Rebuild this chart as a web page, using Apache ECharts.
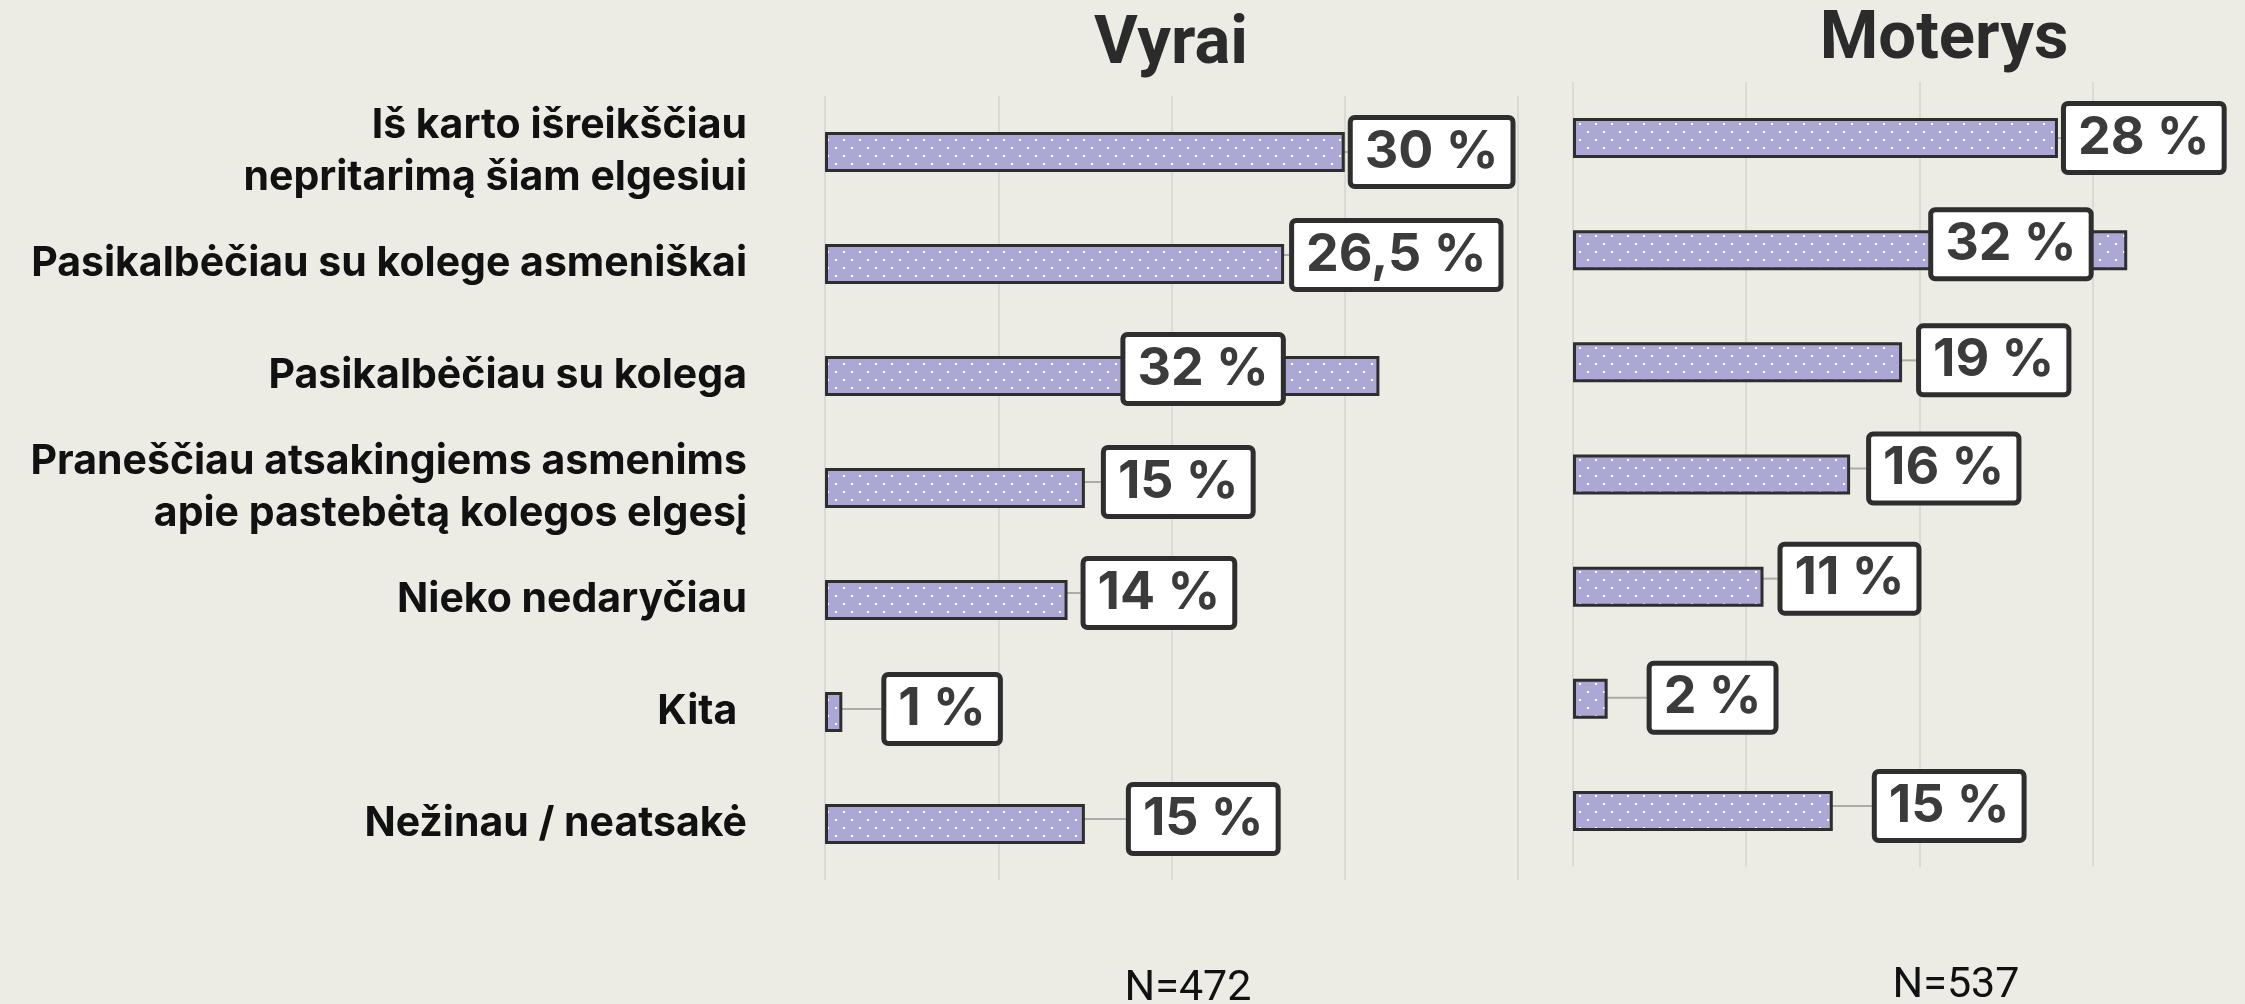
<!DOCTYPE html>
<html>
<head>
<meta charset="utf-8">
<script src="https://cdn.jsdelivr.net/npm/echarts@6/dist/echarts.min.js"></script>
<style>
  html, body { margin: 0; padding: 0; background: #ecebe4; }
  #chart { width: 2245px; height: 1004px; }
</style>
</head>
<body>
<div id="chart"></div>
<script>
// duomenys
const categories = [
  'Iš karto išreikščiau\nnepritarimą šiam elgesiui',
  'Pasikalbėčiau su kolege asmeniškai',
  'Pasikalbėčiau su kolega',
  'Praneščiau atsakingiems asmenims\napie pastebėtą kolegos elgesį',
  'Nieko nedaryčiau',
  'Kita ',
  'Nežinau / neatsakė'
]
const menValues = [30, 26.5, 32, 15, 14, 1, 15]
const womenValues = [28, 32, 19, 16, 11, 2, 15]
const panelTitles = ['Vyrai', 'Moterys']
const sampleSizes = ['N=472', 'N=537']
const axisMin = 0
const menAxisMax = 40
const womenAxisMax = 38.8 // right panel is cut by the page edge
const axisStep = 10

// label nudges (px) so boxes sit like in the original
const menNudge = [[0, 0], [2, -9], [-262, -7], [13, -6], [10, -7], [36, -3], [38, -5]]
const womenNudge = [[0, 0], [-202, -6], [11, -2], [13, -6], [11, -8], [36, -1], [36, -5]]

const FONT = 'Roboto, "Noto Sans", sans-serif'
const LABEL_FONT = 'Inter, Roboto, sans-serif'

function dotPattern() {
  const c = document.createElement('canvas')
  c.width = 16
  c.height = 16
  const ctx = c.getContext('2d')
  ctx.fillStyle = '#aba8d6'
  ctx.fillRect(0, 0, 16, 16)
  ctx.fillStyle = '#ffffff'
  ctx.fillRect(3, 3, 2, 2)
  ctx.fillRect(11, 11, 2, 2)
  return c
}

function fmt(v) {
  return String(v).replace('.', ',') + ' %'
}

function buildSeries(values, nudges, idx) {
  return {
    type: 'bar',
    xAxisIndex: idx,
    yAxisIndex: idx,
    data: values,
    barWidth: 40,
    itemStyle: {
      color: { image: dotPattern(), repeat: 'repeat' },
      borderColor: '#2e2e2e',
      borderWidth: 3
    },
    label: {
      show: true,
      position: 'right',
      distance: 8,
      formatter: p => fmt(p.value),
      fontFamily: LABEL_FONT,
      fontWeight: 'bold',
      fontSize: 52,
      lineHeight: 60,
      color: '#3b3b3b',
      backgroundColor: '#ffffff',
      borderColor: '#2e2e2e',
      borderWidth: 5,
      borderRadius: 2,
      padding: [2, 12]
    },
    labelLine: {
      show: true,
      lineStyle: { color: '#ababab', width: 2 }
    },
    labelLayout: p => ({ dx: nudges[p.dataIndex][0], dy: nudges[p.dataIndex][1] }),
    emphasis: { disabled: true },
    animation: false
  }
}

function valueAxis(idx, max) {
  return {
    type: 'value',
    gridIndex: idx,
    min: axisMin,
    max: max,
    interval: axisStep,
    axisLabel: { show: false },
    axisLine: { show: false },
    axisTick: { show: false },
    splitLine: { show: true, showMaxLine: idx === 0, lineStyle: { color: '#dbdad5', width: 2 } }
  }
}

const chart = echarts.init(document.getElementById('chart'))
chart.setOption({
  backgroundColor: '#ecebe4',
  animation: false,
  grid: [
    { left: 825, top: 96, width: 693, height: 784 },
    { left: 1573, top: 82, right: 0, height: 785 }
  ],
  xAxis: [valueAxis(0, menAxisMax), valueAxis(1, womenAxisMax)],
  yAxis: [
    {
      type: 'category',
      gridIndex: 0,
      data: categories,
      inverse: true,
      axisLine: { show: false },
      axisTick: { show: false },
      axisLabel: {
        margin: 78,
        fontFamily: LABEL_FONT,
        fontWeight: 'bold',
        fontSize: 41,
        lineHeight: 52,
        color: '#111111'
      }
    },
    {
      type: 'category',
      gridIndex: 1,
      data: categories,
      inverse: true,
      axisLine: { show: false },
      axisTick: { show: false },
      axisLabel: { show: false }
    }
  ],
  series: [
    buildSeries(menValues, menNudge, 0),
    buildSeries(womenValues, womenNudge, 1)
  ],
  graphic: [
    {
      type: 'text', x: 1171, y: 46,
      style: { text: panelTitles[0], textAlign: 'center', textVerticalAlign: 'middle',
        fontFamily: FONT, fontWeight: 'bold', fontSize: 67, fill: '#2b2b2b' }
    },
    {
      type: 'text', x: 1944, y: 41,
      style: { text: panelTitles[1], textAlign: 'center', textVerticalAlign: 'middle',
        fontFamily: FONT, fontWeight: 'bold', fontSize: 67, fill: '#2b2b2b' }
    },
    {
      type: 'text', x: 1188, y: 989,
      style: { text: sampleSizes[0], textAlign: 'center', textVerticalAlign: 'middle',
        fontFamily: FONT, fontSize: 43, fill: '#111111' }
    },
    {
      type: 'text', x: 1956, y: 986,
      style: { text: sampleSizes[1], textAlign: 'center', textVerticalAlign: 'middle',
        fontFamily: FONT, fontSize: 43, fill: '#111111' }
    }
  ]
})
</script>
</body>
</html>
